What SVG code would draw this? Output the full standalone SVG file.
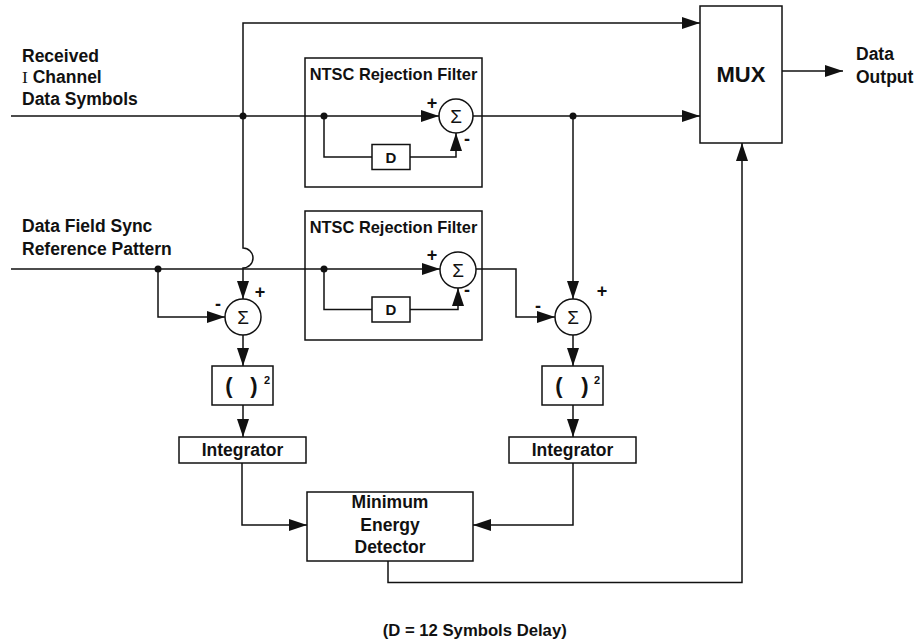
<svg xmlns="http://www.w3.org/2000/svg" width="917" height="641" viewBox="0 0 917 641">
<defs>
<marker id="ah" markerUnits="userSpaceOnUse" markerWidth="18" markerHeight="12" refX="18" refY="6" orient="auto">
<path d="M0,0 L18,6 L0,12 z" fill="#111"/>
</marker>
<style>
.box{fill:#fff;stroke:#111;stroke-width:1.5}
.ln{fill:none;stroke:#111;stroke-width:1.5}
.arr{fill:none;stroke:#111;stroke-width:1.5;marker-end:url(#ah)}
.dot{fill:#111}
text{font-family:"Liberation Sans",Arial,sans-serif;font-weight:bold;fill:#111}
.lbl{font-size:17.5px}
.ttl{font-size:16.4px}
.c{text-anchor:middle}
.sig{font-weight:normal;font-size:19px;text-anchor:middle}
.pm{font-size:18px;text-anchor:middle}
.par{font-size:22px;text-anchor:middle}
.sup{font-size:11px;text-anchor:middle}
.dl{font-size:15px;text-anchor:middle}
</style>
</defs>
<rect width="917" height="641" fill="#fff"/>

<g id="ntsc1">
<rect class="box" x="305" y="58" width="177" height="129"/>
<text class="ttl c" x="393.5" y="80">NTSC Rejection Filter</text>
</g>
<g id="ntsc2">
<rect class="box" x="305" y="211" width="177" height="129"/>
<text class="ttl c" x="393.5" y="233">NTSC Rejection Filter</text>
</g>

<g id="connectors">
<path class="arr" d="M243,116 V23 H700"/>
<path class="arr" d="M243,116 V248 A10,10 0 0 1 243,268 V299"/>
<path class="arr" d="M11,116 H439"/>
<path class="ln" d="M324,116 V157 H372"/>
<path class="arr" d="M410,157 H456 V133"/>
<path class="arr" d="M473,116 H700"/>
<path class="arr" d="M573,116 V299"/>
<path class="arr" d="M11,269 H440"/>
<path class="ln" d="M324,269 V309.5 H372"/>
<path class="arr" d="M410,309.5 H458 V288"/>
<path class="arr" d="M476,269 H516 V317 H555"/>
<path class="arr" d="M158,269 V317 H225"/>
<path class="arr" d="M243,335 V366"/>
<path class="arr" d="M243,405 V437"/>
<path class="arr" d="M242,463 V525 H307"/>
<path class="arr" d="M573,335 V366"/>
<path class="arr" d="M573,405 V437"/>
<path class="arr" d="M573,463 V525 H473"/>
<path class="arr" d="M388,561 V582.5 H742 V143"/>
<path class="arr" d="M782,71 H843"/>
<circle class="dot" cx="243" cy="116" r="3.5"/>
<circle class="dot" cx="324" cy="116" r="3.5"/>
<circle class="dot" cx="573" cy="116" r="3.5"/>
<circle class="dot" cx="158" cy="269" r="3.5"/>
<circle class="dot" cx="324" cy="269" r="3.5"/>
</g>

<g id="d1">
<rect class="box" x="372" y="144.5" width="38" height="25"/>
<text class="dl" x="391" y="162.5">D</text>
</g>
<g id="d2">
<rect class="box" x="372" y="297" width="38" height="25"/>
<text class="dl" x="391" y="315">D</text>
</g>

<g id="sum1">
<circle class="box" cx="456" cy="116" r="17"/>
<text class="sig" x="456" y="123">Σ</text>
<text class="pm" x="432" y="109">+</text>
<text class="pm" x="467" y="144.5">-</text>
</g>
<g id="sum2">
<circle class="box" cx="458" cy="270" r="18"/>
<text class="sig" x="458" y="277">Σ</text>
<text class="pm" x="432" y="261">+</text>
<text class="pm" x="467" y="296">-</text>
</g>
<g id="sumL">
<circle class="box" cx="243" cy="317" r="18"/>
<text class="sig" x="243" y="324">Σ</text>
<text class="pm" x="260" y="298">+</text>
<text class="pm" x="218" y="309.5">-</text>
</g>
<g id="sumR">
<circle class="box" cx="573" cy="317" r="18"/>
<text class="sig" x="573" y="324">Σ</text>
<text class="pm" x="602" y="297">+</text>
<text class="pm" x="538" y="311.5">-</text>
</g>

<g id="sqL">
<rect class="box" x="212" y="366" width="61" height="39"/>
<text class="par" x="229" y="393">(</text>
<text class="par" x="254" y="393">)</text>
<text class="sup" x="267" y="384">2</text>
</g>
<g id="sqR">
<rect class="box" x="542" y="366" width="61" height="39"/>
<text class="par" x="559" y="393">(</text>
<text class="par" x="585" y="393">)</text>
<text class="sup" x="597" y="384">2</text>
</g>

<g id="intL">
<rect class="box" x="179" y="437" width="127" height="26"/>
<text class="lbl c" x="242.5" y="456">Integrator</text>
</g>
<g id="intR">
<rect class="box" x="509" y="437" width="127" height="26"/>
<text class="lbl c" x="572.5" y="456">Integrator</text>
</g>

<g id="med">
<rect class="box" x="307" y="492" width="166" height="69"/>
<text class="lbl c" x="390" y="508">Minimum</text>
<text class="lbl c" x="390" y="531">Energy</text>
<text class="lbl c" x="390" y="553">Detector</text>
</g>

<g id="mux">
<rect class="box" x="700" y="6" width="82" height="137"/>
<text class="c" style="font-size:22px" x="741" y="82">MUX</text>
</g>

<g id="labels">
<text class="lbl" x="22" y="62">Received</text>
<text class="lbl" x="22" y="83"><tspan style="font-family:'Liberation Serif','Times New Roman',serif;font-weight:normal">I</tspan> Channel</text>
<text class="lbl" x="22" y="105">Data Symbols</text>
<text class="lbl" x="22" y="232">Data Field Sync</text>
<text class="lbl" x="22" y="255">Reference Pattern</text>
<text class="lbl" x="856" y="60">Data</text>
<text class="lbl" x="856" y="83">Output</text>
<text class="c" style="font-size:16.7px" x="474.7" y="636">(D = 12 Symbols Delay)</text>
</g>
</svg>
